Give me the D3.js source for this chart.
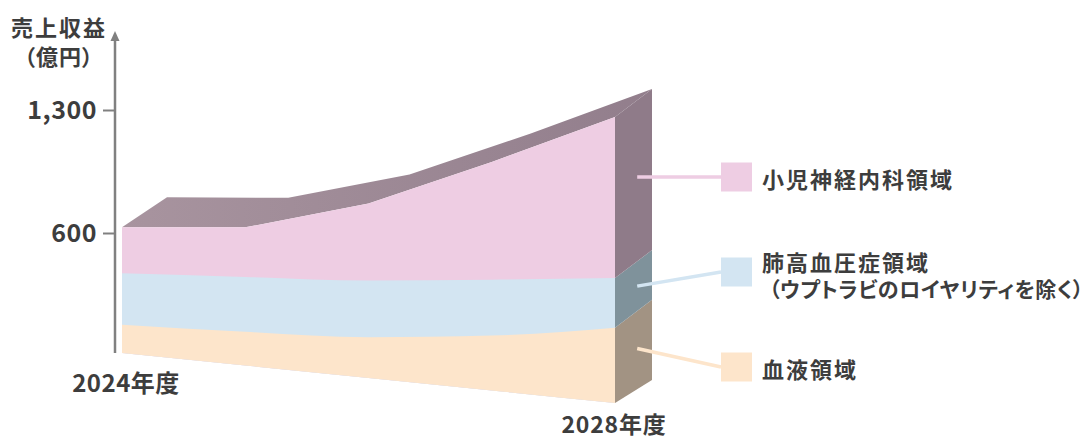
<!DOCTYPE html>
<html><head><meta charset="utf-8">
<script src="https://cdn.jsdelivr.net/npm/d3@7"></script>
<style>
html,body{margin:0;padding:0;background:#fff;}
svg{display:block;}
text{font-family:"Noto Sans CJK JP","Noto Sans",sans-serif;font-weight:700;fill:#3d3d3d;}
.palt{font-feature-settings:"palt" 1;}
</style>
</head><body>
<svg id="chart" width="1085" height="440"></svg>
<script>
// ---- data ----
const years = [2024, 2025, 2026, 2027, 2028];
const seriesKeys = ["hematology", "pah", "neuro"];
const hematology = [160, 190, 230, 310, 425];
const pah = [290, 310, 320, 315, 280];
const neuro = [260, 280, 435, 665, 910];
const legendLabels = [["小児神経内科領域"], ["肺高血圧症領域", "（ウプトラビのロイヤリティを除く）"], ["血液領域"]];
const yTickValues = [600, 1300];
const xLabels = ["2024年度", "2028年度"];
const axisTitle = ["売上収益", "（億円）"];

const rows = years.map((y, i) => ({year: y, hematology: hematology[i], pah: pah[i], neuro: neuro[i]}));
const stacked = d3.stack().keys(seriesKeys)(rows);

const frontColor = {hematology: "#FDE5CB", pah: "#D3E5F2", neuro: "#EECDE3"};
const sideColor = {hematology: "#A29383", pah: "#7F929B", neuro: "#8F7B89"};

const svg = d3.select("#chart");

// ---- scales ----
const x = d3.scaleLinear().domain([2024, 2028]).range([122, 615]);
const floor = d3.scaleLinear().domain([2024, 2028]).range([353, 403]);   // perspective floor of the front face
const h = d3.scaleLinear().domain([0, 700]).range([0, 124]);             // value -> height
const depthX = d3.scaleLinear().domain([2024, 2028]).range([45, 37]);
const depthY = d3.scaleLinear().domain([2024, 2028]).range([-30, -28]);
const yAxis = d3.scaleLinear().domain([600, 1300]).range([233, 110]);

const fy = (yr, v) => floor(yr) - h(v);

// ---- gradient for top face ----
const defs = svg.append("defs");
const grad = defs.append("linearGradient").attr("id", "topGrad").attr("x1", "0%").attr("x2", "100%");
grad.append("stop").attr("offset", "0%").attr("stop-color", "#A8949F");
grad.append("stop").attr("offset", "100%").attr("stop-color", "#927E8C");

// ---- top face ----
const topLayer = stacked[stacked.length - 1];
const frontTop = topLayer.map(d => [x(d.data.year), fy(d.data.year, d[1])]);
const backTop = topLayer.map(d => [x(d.data.year) + depthX(d.data.year), fy(d.data.year, d[1]) + depthY(d.data.year)]);
svg.append("path")
  .attr("d", d3.line()(frontTop.concat(backTop.slice().reverse())) + "Z")
  .attr("fill", "url(#topGrad)");

// ---- right side face ----
const last = years[years.length - 1];
const dX = depthX(last), dY = depthY(last);
stacked.forEach(layer => {
  const d = layer[layer.length - 1];
  const xf = x(last), yb = fy(last, d[0]), yt = fy(last, d[1]);
  const dyb = d[0] === 0 ? -23 : dY;
  svg.append("path")
    .attr("d", d3.line()([[xf, yb], [xf, yt], [xf + dX, yt + dY], [xf + dX, yb + dyb]]) + "Z")
    .attr("fill", sideColor[layer.key]);
});

// ---- front face (painted tallest first, each from the floor) ----
const curves = {neuro: d3.curveLinear, pah: d3.curveMonotoneX, hematology: d3.curveMonotoneX};
stacked.slice().reverse().forEach(layer => {
  const area = d3.area()
    .x(d => x(d.data.year))
    .y0(d => floor(d.data.year))
    .y1(d => fy(d.data.year, d[1]))
    .curve(curves[layer.key]);
  svg.append("path").attr("d", area(layer)).attr("fill", frontColor[layer.key]);
});

// ---- y axis ----
svg.append("line").attr("x1", 115).attr("x2", 115).attr("y1", 353).attr("y2", 40)
  .attr("stroke", "#808080").attr("stroke-width", 2.5);
svg.append("path").attr("d", "M115,31 L110.5,41 L119.5,41 Z").attr("fill", "#808080");

const ax = svg.append("g").attr("transform", "translate(115,0)")
  .call(d3.axisLeft(yAxis).tickValues(yTickValues).tickSize(12).tickPadding(6).tickFormat(d3.format(",")));
ax.select(".domain").remove();
ax.selectAll(".tick line").attr("stroke", "#808080").attr("stroke-width", 2);
ax.selectAll(".tick text").attr("font-size", 25).attr("fill", "#3d3d3d")
  .attr("font-family", null).attr("dy", "0.35em").style("letter-spacing", "0.5px");

// axis title
svg.append("text").attr("x", 59).attr("y", 26).attr("text-anchor", "middle").attr("dominant-baseline", "central")
  .attr("font-size", 22).style("letter-spacing", "2px").text(axisTitle[0]);
svg.append("text").attr("class", "palt").attr("x", 59).attr("y", 55).attr("text-anchor", "middle").attr("dominant-baseline", "central")
  .attr("font-size", 22).style("letter-spacing", "1px").text(axisTitle[1]);

// x labels
svg.append("text").attr("x", x(years[0]) + 4).attr("y", 381).attr("text-anchor", "middle").attr("dominant-baseline", "central")
  .attr("font-size", 24).style("letter-spacing", "0.5px").text(xLabels[0]);
svg.append("text").attr("x", x(last) - 1).attr("y", 423).attr("text-anchor", "middle").attr("dominant-baseline", "central")
  .attr("font-size", 23).style("letter-spacing", "0.8px").text(xLabels[1]);

// ---- legend ----
const legendY = {neuro: 177, pah: 272, hematology: 367};
const legendOrder = ["neuro", "pah", "hematology"];
const sideX = x(last) + dX * 0.6;
legendOrder.forEach((key, i) => {
  const layer = stacked.find(s => s.key === key);
  const d = layer[layer.length - 1];
  const ym = Math.min((fy(last, d[0]) + fy(last, d[1])) / 2 + dY * 0.6, key === "neuro" ? legendY.neuro : 1e9);
  const cy = legendY[key];
  svg.append("line").attr("x1", sideX).attr("y1", ym).attr("x2", 721).attr("y2", cy)
    .attr("stroke", frontColor[key]).attr("stroke-width", 3.5);
  svg.append("rect").attr("x", 721).attr("y", cy - 14.5).attr("width", 31).attr("height", 29)
    .attr("fill", frontColor[key]);
  const lines = legendLabels[i];
  lines.forEach((t, j) => {
    const ty = lines.length === 1 ? cy + 1 : cy - 11 + j * 27;
    svg.append("text").attr("class", "palt").attr("x", j === 0 ? 762 : 769).attr("y", ty)
      .attr("dominant-baseline", "central").attr("font-size", j === 0 ? 22 : 21)
      .style("letter-spacing", j === 0 ? "2px" : "0.5px").text(t);
  });
});
</script>
</body></html>
